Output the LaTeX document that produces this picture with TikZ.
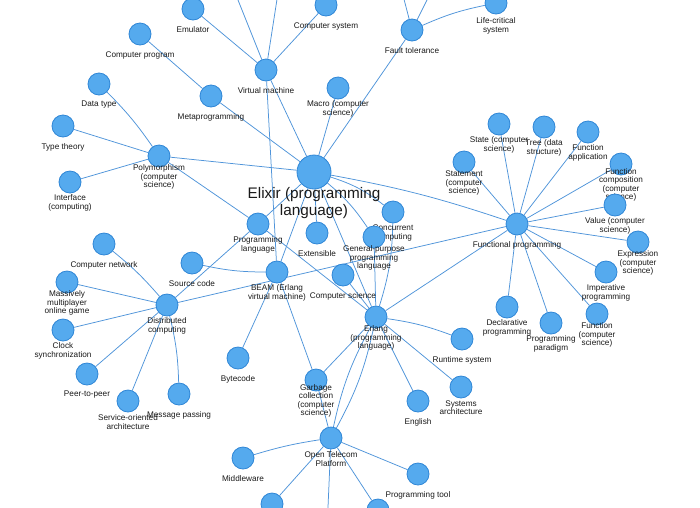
\documentclass[tikz,border=0pt]{standalone}
\usepackage{fontspec}
\setmainfont{Liberation Sans}
\usetikzlibrary{backgrounds}
\definecolor{nodefill}{HTML}{55AAEE}
\definecolor{nodeedge}{HTML}{2F86D6}
\definecolor{linkc}{HTML}{4F94DA}
\definecolor{txt}{HTML}{1A1A1A}
\newcommand\GN[4]{\node[nd] (#1) at (#2,#3) {}; \node[lb] (#1-l) at (#2,#3+21) {#4};}
\begin{document}
\begin{tikzpicture}[x=1pt,y=-1pt,
  nd/.style={circle,draw=nodeedge,fill=nodefill,line width=0.8pt,minimum size=22pt,inner sep=0pt},
  bignd/.style={circle,draw=nodeedge,fill=nodefill,line width=0.8pt,minimum size=34pt,inner sep=0pt},
  lk/.style={draw=linkc,line width=0.75pt},
  lb/.style={font=\fontsize{8.2}{8.3}\selectfont,align=center,inner sep=0pt,text=txt},
  biglb/.style={font=\fontsize{15.3}{17}\selectfont,align=center,inner sep=0pt,text=txt}]
\useasboundingbox (0,0) rectangle (700,507);
\clip (0,0) rectangle (700,507);
% off-screen endpoints
\coordinate (top1) at (230,-20);
\coordinate (top2) at (280,-20);
\coordinate (top3) at (399,-20);
\coordinate (top4) at (437,-20);
\coordinate (bot1) at (327,530);
% nodes
\node[bignd] (el) at (314,172) {};
\node[biglb] (el-l) at (314,203) {Elixir (programming\\language)};
\GN{vm}{266}{70}{Virtual machine}
\GN{emu}{193}{9}{Emulator}
\GN{csys}{326}{5}{Computer system}
\GN{ft}{412}{30}{Fault tolerance}
\node[nd] (lcs) at (496,3) {}; \node[lb] at (496,26) {Life-critical\\system};
\GN{cprog}{140}{34}{Computer program}
\GN{dtype}{99}{84}{Data type}
\GN{meta}{211}{96}{Metaprogramming}
\GN{macro}{338}{88}{Macro (computer\\science)}
\GN{ttheory}{63}{126}{Type theory}
\GN{poly}{159}{156}{Polymorphism\\(computer\\science)}
\GN{iface}{70}{182}{Interface\\(computing)}
\GN{pl}{258}{224}{Programming\\language}
\GN{ext}{317}{233}{Extensible}
\GN{conc}{393}{212}{Concurrent\\computing}
\GN{gp}{374}{237}{General-purpose\\programming\\language}
\GN{cnet}{104}{244}{Computer network}
\GN{src}{192}{263}{Source code}
\GN{beam}{277}{272}{BEAM (Erlang\\virtual machine)}
\GN{cs}{343}{275}{Computer science}
\GN{mmog}{67}{282}{Massively\\multiplayer\\online game}
\GN{dist}{167}{305}{Distributed\\computing}
\GN{clock}{63}{330}{Clock\\synchronization}
\GN{erl}{376}{317}{Erlang\\(programming\\language)}
\GN{rt}{462}{339}{Runtime system}
\GN{fp}{517}{224}{Functional programming}
\GN{state}{499}{124}{State (computer\\science)}
\GN{tree}{544}{127}{Tree (data\\structure)}
\GN{fapp}{588}{132}{Function\\application}
\GN{stmt}{464}{162}{Statement\\(computer\\science)}
\GN{fcomp}{621}{164}{Function\\composition\\(computer\\science)}
\GN{val}{615}{205}{Value (computer\\science)}
\GN{expr}{638}{242}{Expression\\(computer\\science)}
\GN{imp}{606}{272}{Imperative\\programming}
\GN{decl}{507}{307}{Declarative\\programming}
\GN{pp}{551}{323}{Programming\\paradigm}
\GN{func}{597}{314}{Function\\(computer\\science)}
\GN{byte}{238}{358}{Bytecode}
\GN{p2p}{87}{374}{Peer-to-peer}
\GN{soa}{128}{401}{Service-oriented\\architecture}
\GN{msg}{179}{394}{Message passing}
\GN{gc}{316}{380}{Garbage\\collection\\(computer\\science)}
\GN{eng}{418}{401}{English}
\GN{sa}{461}{387}{Systems\\architecture}
\GN{otp}{331}{438}{Open Telecom\\Platform}
\GN{mw}{243}{458}{Middleware}
\GN{pt}{418}{474}{Programming tool}
\node[nd] (bl) at (272,504) {};
\node[nd] (br) at (378,510) {};
% links
\begin{scope}[on background layer]
\clip (0,0) rectangle (700,507);
\fill[white] (0,0) rectangle (700,507);
\draw[lk] (vm) -- (emu);
\draw[lk] (vm) -- (csys);
\draw[lk] (vm) -- (top1);
\draw[lk] (vm) -- (top2);
\draw[lk] (vm) -- (el);
\draw[lk] (vm) -- (beam);
\draw[lk] (cprog) -- (meta);
\draw[lk] (meta) -- (el);
\draw[lk] (macro) -- (el);
\draw[lk] (ft) -- (el);
\draw[lk] (ft) to[bend left=6] (lcs);
\draw[lk] (ft) -- (top3);
\draw[lk] (ft) -- (top4);
\draw[lk] (dtype) to[bend left=5] (poly);
\draw[lk] (ttheory) -- (poly);
\draw[lk] (iface) -- (poly);
\draw[lk] (poly) -- (el);
\draw[lk] (poly) -- (pl);
\draw[lk] (el) -- (pl);
\draw[lk] (el) -- (ext);
\draw[lk] (el) -- (beam);
\draw[lk] (el) to[bend left=10] (conc);
\draw[lk] (el) to[bend left=8] (gp);
\draw[lk] (el) -- (erl);
\draw[lk] (el) to[bend left=4] (fp);
\draw[lk] (pl) -- (dist);
\draw[lk] (pl) -- (erl);
\draw[lk] (src) to[bend right=6] (beam);
\draw[lk] (dist) to[bend right=5] (cnet);
\draw[lk] (dist) -- (mmog);
\draw[lk] (dist) -- (clock);
\draw[lk] (dist) -- (p2p);
\draw[lk] (dist) -- (soa);
\draw[lk] (dist) to[bend left=6] (msg);
\draw[lk] (dist) -- (fp);
\draw[lk] (beam) -- (byte);
\draw[lk] (beam) -- (gc);
\draw[lk] (cs) -- (erl);
\draw[lk] (erl) -- (fp);
\draw[lk] (erl) -- (gp);
\draw[lk] (erl) to[bend right=8] (conc);
\draw[lk] (erl) to[bend left=6] (rt);
\draw[lk] (erl) -- (sa);
\draw[lk] (erl) -- (eng);
\draw[lk] (erl) -- (gc);
\draw[lk] (erl) to[bend left=8] (otp);
\draw[lk] (erl) to[bend right=8] (otp);
\draw[lk] (gc) -- (otp);
\draw[lk] (otp) to[bend right=4] (mw);
\draw[lk] (otp) -- (pt);
\draw[lk] (otp) -- (bl);
\draw[lk] (otp) -- (br);
\draw[lk] (otp) -- (bot1);
\draw[lk] (fp) -- (state);
\draw[lk] (fp) -- (tree);
\draw[lk] (fp) -- (fapp);
\draw[lk] (fp) -- (stmt);
\draw[lk] (fp) -- (fcomp);
\draw[lk] (fp) -- (val);
\draw[lk] (fp) -- (expr);
\draw[lk] (fp) -- (imp);
\draw[lk] (fp) -- (decl);
\draw[lk] (fp) -- (pp);
\draw[lk] (fp) -- (func);
\end{scope}
\end{tikzpicture}
\end{document}
